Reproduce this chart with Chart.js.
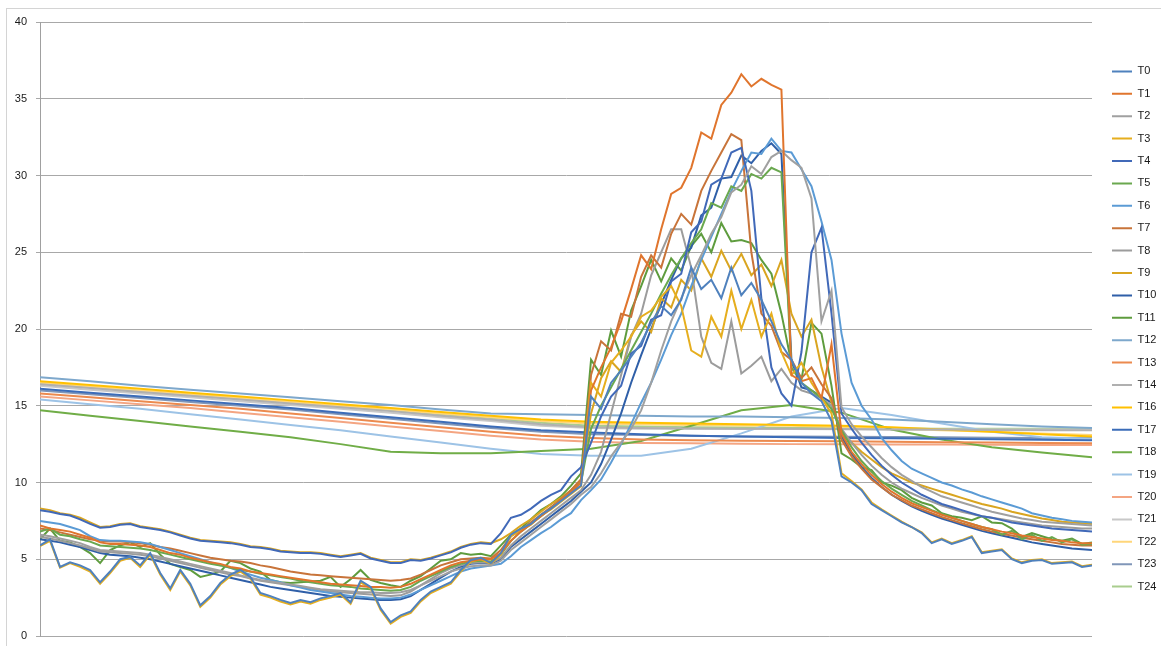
<!DOCTYPE html>
<html>
<head>
<meta charset="utf-8">
<script src="https://cdn.jsdelivr.net/npm/chart.js@4.4.1/dist/chart.umd.min.js"></script>
<style>
  html, body { margin: 0; padding: 0; background: #fff; }
</style>
</head>
<body>
<canvas id="tempChart" width="1161" height="646"></canvas>
<script>
// sample index of the readings (one point every 10 samples), slow sensors every 50
const sampleTime = Array.from({ length: 106 }, (_, i) => i * 10);
const slowTime = Array.from({ length: 22 }, (_, i) => i * 50);

// fast sensors
const T0 = [5.9,6.3,4.5,4.8,4.6,4.3,3.5,4.2,5.0,5.15, 4.6,5.4,4.1,3.1,4.3,3.4,2.0,2.6,3.45,4.0,
  4.3,3.85,2.8,2.6,2.35,2.15,2.35,2.2,2.45,2.6, 2.8,2.2,3.6,3.2,1.8,0.9,1.35,1.6,2.35,2.9,
  3.2,3.5,4.3,4.95,5.1,4.75,5.4,
  6.6,7.0,7.3,7.9,8.3,8.8,9.3,9.8,15.6,14.8, 16.5,17.3,18.2,19.1,20.4,21.5,20.9,21.9,24.0,22.6,
  23.2,22.0,24.0,22.2,23.0,21.9,20.5,19.0,18.0,16.5, 15.8,15.3,14.0,10.4,
  10.0,9.5,8.6,8.2,7.8,7.4,7.1,6.7,6.05,6.3, 6.0,6.2,6.45,5.4,5.5,5.6,5.0,4.75,4.9,4.95, 4.7,4.75,4.8,4.5,4.6];
const T1 = [7.2,7.0,6.9,6.8,6.6,6.4,6.1,6.0,6.0,5.95, 5.9,5.8,5.6,5.4,5.3,5.1,4.95,4.8,4.7,4.5,
  4.4,4.2,4.1,4.0,3.9,3.8,3.7,3.6,3.5,3.4, 3.35,3.3,3.25,3.2,3.2,3.15,3.2,3.4,3.7,4.0,
  4.3,4.6,4.8,4.9,5.0,5.0,5.4,
  6.2,6.8,7.3,7.8,8.3,8.9,9.4,10.0,16.0,17.5, 18.8,20.5,22.6,24.8,23.9,26.5,28.8,29.2,30.5,32.8,
  32.4,34.6,35.4,36.6,35.8,36.3,35.9,35.6,17.0,16.6, 16.8,15.5,19.0,13.2,
  12.0,11.2,10.5,9.9,9.4,9.0,8.65,8.4,8.15,7.9, 7.7,7.5,7.3,7.1,6.95,6.8,6.7,6.55,6.45,6.35, 6.25,6.2,6.1,6.05,6.05];
const T2 = [6.6,6.5,6.35,6.2,6.05,5.8,5.6,5.55,5.5,5.45, 5.4,5.3,5.15,5.0,4.85,4.7,4.55,4.4,4.25,4.1,
  3.95,3.8,3.65,3.55,3.45,3.35,3.25,3.15,3.05,3.0, 2.95,2.9,2.85,2.85,2.8,2.8,2.85,3.0,3.3,3.6,
  3.9,4.2,4.4,4.55,4.6,4.6,4.9,
  5.6,6.1,6.6,7.1,7.6,8.1,8.6,9.2,9.7,10.6, 11.7,12.6,13.5,14.7,16.5,18.6,20.5,22.0,23.5,24.8,
  26.2,27.3,28.9,29.4,30.6,30.1,31.2,31.6,31.0,30.5, 28.5,20.5,22.5,14.9,
  13.8,13.0,12.3,11.6,11.0,10.5,10.1,9.7,9.4,9.1, 8.9,8.7,8.5,8.3,8.1,7.95,7.8,7.65,7.55,7.45, 7.4,7.35,7.3,7.25,7.2];
const T3 = [5.85,6.2,4.45,4.75,4.5,4.2,3.4,4.1,4.9,5.1, 4.5,5.3,4.0,3.0,4.2,3.3,1.9,2.5,3.35,3.9,
  4.2,3.75,2.7,2.5,2.25,2.05,2.25,2.1,2.35,2.5, 2.7,2.1,3.5,3.1,1.7,0.8,1.25,1.5,2.25,2.8,
  3.1,3.4,4.2,4.85,5.0,4.7,5.3,
  6.5,6.9,7.25,7.85,8.25,8.75,9.25,9.75,16.5,15.6, 17.8,18.6,19.5,20.8,21.2,22.1,22.8,21.5,18.6,18.2,
  20.8,19.5,22.5,20.0,21.9,19.5,21.0,18.5,17.0,17.8, 16.5,15.5,14.5,10.6,
  10.1,9.55,8.7,8.25,7.85,7.45,7.1,6.75,6.1,6.35, 6.05,6.25,6.5,5.45,5.55,5.65,5.05,4.8,4.95,5.0, 4.75,4.8,4.85,4.55,4.65];
const T4 = [8.2,8.1,7.95,7.85,7.6,7.3,7.05,7.1,7.25,7.3, 7.1,7.0,6.9,6.75,6.55,6.35,6.2,6.15,6.1,6.05,
  5.95,5.8,5.75,5.65,5.5,5.45,5.4,5.4,5.35,5.25, 5.15,5.25,5.35,5.05,4.9,4.75,4.75,4.95,4.9,5.05,
  5.25,5.45,5.75,5.95,6.05,6.0,6.7,
  7.7,7.9,8.3,8.8,9.2,9.5,10.4,11.0,12.6,14.3, 15.6,16.3,18.4,18.9,20.6,20.9,23.1,23.6,26.3,27.0,
  29.4,29.8,31.5,31.8,29.0,22.0,17.5,15.8,15.0,18.5, 25.0,26.6,21.0,14.5,
  13.5,12.6,11.8,11.1,10.5,10.0,9.6,9.2,8.9,8.6, 8.4,8.2,8.0,7.8,7.7,7.55,7.4,7.3,7.2,7.1, 7.0,6.95,6.9,6.85,6.8];
const T5 = [6.8,7.0,6.6,6.5,6.3,6.15,5.9,5.85,5.8,5.75, 5.7,5.6,5.45,5.3,5.15,5.0,4.85,4.7,4.6,4.45,
  4.3,4.2,4.05,3.95,3.85,3.75,3.6,3.5,3.4,3.3, 3.25,3.2,3.1,3.05,3.0,2.95,3.0,3.2,3.6,3.9,
  4.2,4.5,4.7,4.85,4.9,4.85,5.3,
  6.2,6.8,7.3,7.8,8.3,8.9,9.4,10.0,13.5,15.0, 16.2,17.4,18.6,19.8,21.0,22.3,23.5,24.6,25.6,26.5,
  28.2,27.9,29.3,29.0,30.1,29.8,30.5,30.2,17.5,16.5, 16.0,15.5,14.8,13.4,
  12.3,11.4,10.7,10.1,9.6,9.2,8.8,8.5,8.2,7.95, 7.7,7.5,7.3,7.1,6.95,6.6,6.85,6.3,6.6,6.2, 6.45,6.1,6.3,5.95,6.0];
const T6 = [7.5,7.4,7.3,7.1,6.9,6.5,6.25,6.2,6.2,6.15, 6.1,6.0,5.8,5.6,5.4,5.2,5.0,4.8,4.6,4.45,
  4.2,4.0,3.8,3.65,3.5,3.3,3.15,3.0,2.9,2.8, 2.7,2.6,2.55,2.5,2.45,2.45,2.5,2.7,3.0,3.3,
  3.6,3.9,4.2,4.4,4.5,4.6,4.7,
  5.2,5.8,6.25,6.7,7.1,7.6,8.0,8.85,9.5,10.2, 11.3,12.5,13.8,15.2,16.5,18.0,19.6,21.0,22.8,24.5,
  26.0,27.5,29.0,30.3,31.5,31.4,32.4,31.6,31.5,30.4, 29.3,27.0,24.5,19.7,
  16.5,15.0,14.1,12.9,12.1,11.4,10.9,10.6,10.3,10.0, 9.8,9.55,9.35,9.1,8.9,8.7,8.5,8.3,8.0,7.85, 7.7,7.6,7.5,7.45,7.4];
const T7 = [7.0,6.9,6.75,6.6,6.45,6.3,6.2,6.15,6.15,6.1, 6.05,5.95,5.8,5.7,5.55,5.4,5.25,5.1,5.0,4.9,
  4.85,4.75,4.6,4.5,4.35,4.2,4.1,4.0,3.95,3.9, 3.85,3.8,3.75,3.7,3.65,3.6,3.65,3.75,4.0,4.3,
  4.6,4.8,5.0,5.05,5.1,5.05,5.6,
  6.5,6.9,7.4,7.9,8.4,8.9,9.5,10.2,17.0,19.2, 18.6,21.0,20.8,23.4,24.8,24.0,26.2,27.5,26.8,29.0,
  30.3,31.5,32.7,32.3,25.0,21.0,20.2,18.5,18.0,16.8, 17.5,16.4,15.5,12.8,
  11.7,10.9,10.2,9.7,9.2,8.85,8.5,8.25,8.0,7.75, 7.55,7.35,7.15,6.95,6.8,6.65,6.55,6.4,6.3,6.2, 6.1,6.0,5.95,5.9,5.9];
const T8 = [6.45,6.35,6.2,6.05,5.9,5.7,5.5,5.45,5.4,5.35, 5.3,5.2,5.05,4.9,4.75,4.6,4.45,4.3,4.15,4.0,
  3.9,3.75,3.6,3.5,3.4,3.3,3.2,3.1,3.0,2.9, 2.85,2.8,2.75,2.7,2.65,2.6,2.65,2.9,3.3,3.7,
  4.1,4.4,4.6,4.75,4.8,4.75,5.1,
  5.9,6.5,7.0,7.5,8.0,8.5,9.0,9.5,10.5,12.0, 14.5,17.0,19.5,21.0,23.5,25.0,26.5,26.5,24.0,19.5,
  17.8,17.4,20.5,17.1,17.6,18.2,16.6,17.4,16.5,16.0, 15.8,15.5,15.0,13.5,
  12.6,11.8,11.1,10.5,10.0,9.6,9.3,9.0,8.75,8.5, 8.3,8.1,7.95,7.8,7.7,7.6,7.5,7.4,7.3,7.2, 7.15,7.1,7.05,7.0,7.0];
const T9 = [8.3,8.2,8.0,7.9,7.7,7.4,7.1,7.15,7.3,7.35, 7.15,7.05,6.95,6.8,6.6,6.4,6.25,6.2,6.15,6.1,
  6.0,5.85,5.8,5.7,5.55,5.5,5.45,5.45,5.4,5.3, 5.2,5.3,5.4,5.1,4.95,4.8,4.8,5.0,4.95,5.1,
  5.3,5.5,5.8,6.0,6.1,6.05,6.3,
  6.7,7.2,7.6,8.1,8.6,9.0,9.5,10.2,14.5,16.8, 17.9,17.2,19.6,20.5,19.8,22.0,21.4,23.2,22.5,24.6,
  23.4,25.1,23.8,24.9,23.5,24.2,22.8,24.5,21.0,19.5, 20.6,17.5,15.2,13.2,
  12.6,12.0,11.5,11.0,10.6,10.3,10.0,9.8,9.6,9.4, 9.2,9.0,8.8,8.6,8.45,8.3,8.1,7.95,7.8,7.65, 7.55,7.45,7.4,7.35,7.3];
const T10 = [6.3,6.2,6.1,5.95,5.8,5.6,5.4,5.3,5.25,5.2, 5.1,5.0,4.85,4.7,4.55,4.4,4.25,4.1,3.95,3.8,
  3.65,3.5,3.35,3.2,3.1,3.0,2.9,2.8,2.7,2.6, 2.55,2.5,2.45,2.4,2.35,2.35,2.4,2.6,3.0,3.4,
  3.8,4.2,4.5,4.7,4.75,4.7,5.0,
  5.8,6.3,6.8,7.3,7.8,8.3,8.8,9.4,10.0,11.2, 12.8,14.5,16.5,18.3,20.0,21.6,23.2,24.6,25.3,27.4,
  27.9,29.8,29.9,31.3,30.8,31.6,32.1,31.4,18.0,16.2, 16.0,15.6,15.2,13.0,
  11.9,11.0,10.3,9.7,9.2,8.8,8.45,8.15,7.9,7.65, 7.45,7.25,7.05,6.85,6.7,6.55,6.4,6.25,6.1,6.0, 5.9,5.8,5.7,5.65,5.6];
const T11 = [6.3,7.0,6.2,6.1,5.8,5.4,4.75,5.6,5.9,6.1, 5.8,6.05,5.3,4.7,4.5,4.3,3.85,4.0,4.2,4.9,
  4.75,4.4,4.2,3.65,3.5,3.45,3.5,3.55,3.6,3.85, 3.2,3.7,4.3,3.65,3.45,3.3,3.2,3.6,3.9,4.4,
  4.9,5.0,5.4,5.3,5.35,5.2,5.9,
  6.6,7.0,7.6,8.2,8.6,9.1,9.8,10.6,18.0,17.0, 19.9,18.2,21.2,22.8,24.5,23.1,24.6,23.8,25.4,26.2,
  25.0,26.9,25.7,25.8,25.6,24.5,23.6,21.0,17.8,16.7, 20.4,19.7,16.3,11.9,
  11.5,11.0,10.8,10.0,9.8,9.5,9.0,8.7,8.5,8.0, 7.8,7.7,7.55,7.8,7.4,7.35,7.0,6.45,6.7,6.5, 6.3,6.2,6.35,6.0,6.1];

// slow sensors (one reading every 50 samples)
const T12 = [16.85,16.6,16.3,16.05,15.8,15.55,15.3,15.05,14.75,14.5,14.45, 14.4,14.35,14.3,14.3,14.25,14.2,14.1,13.95,13.8,13.65,13.55];
const T13 = [15.8,15.55,15.3,15.05,14.8,14.5,14.2,13.9,13.6,13.3,13.05, 12.9,12.8,12.75,12.72,12.7,12.68,12.65,12.62,12.6,12.58,12.55];
const T14 = [16.4,16.15,15.9,15.65,15.4,15.15,14.9,14.65,14.35,14.1,13.8, 13.6,13.55,13.52,13.5,13.5,13.48,13.45,13.45,13.42,13.4,13.4];
const T16 = [16.6,16.35,16.1,15.85,15.6,15.35,15.1,14.85,14.6,14.35,14.1, 13.95,13.9,13.85,13.8,13.75,13.7,13.6,13.45,13.3,13.15,13.0];
const T17 = [16.1,15.85,15.6,15.35,15.1,14.85,14.55,14.25,13.95,13.65,13.4, 13.25,13.15,13.05,13.0,12.95,12.9,12.88,12.85,12.82,12.78,12.75];
const T18 = [14.7,14.35,14.0,13.65,13.3,12.95,12.5,12.0,11.9,11.9,12.05, 12.2,12.7,13.7,14.7,15.05,14.55,13.45,12.8,12.3,11.95,11.65];
const T19 = [15.4,15.1,14.8,14.45,14.1,13.75,13.4,13.0,12.6,12.2,11.85, 11.75,11.75,12.2,13.2,14.3,14.85,14.4,13.85,13.3,12.95,12.85];
const T20 = [15.6,15.35,15.1,14.85,14.55,14.25,13.95,13.65,13.35,13.05,12.8, 12.65,12.58,12.55,12.52,12.5,12.5,12.48,12.47,12.46,12.45,12.45];
const T21 = [16.3,16.05,15.8,15.55,15.3,15.05,14.8,14.55,14.25,14.0,13.7, 13.55,13.5,13.5,13.48,13.48,13.47,13.46,13.45,13.45,13.45,13.45];
const T22 = [16.5,16.25,16.0,15.75,15.5,15.25,15.0,14.75,14.5,14.25,14.0, 13.85,13.8,13.75,13.72,13.7,13.62,13.5,13.4,13.3,13.2,13.1];
const T23 = [16.0,15.75,15.5,15.25,15.0,14.75,14.45,14.15,13.85,13.55,13.3, 13.15,13.1,13.05,13.0,13.0,12.98,12.96,12.95,12.92,12.9,12.9];
const T24 = [16.45,16.2,15.95,15.7,15.45,15.2,14.95,14.7,14.45,14.2,13.9, 13.7,13.65,13.6,13.58,13.55,13.55,13.52,13.5,13.5,13.5,13.5];

const sensors = [
  ['T0', T0, sampleTime, '#4F81BD'],
  ['T1', T1, sampleTime, '#E0752D'],
  ['T2', T2, sampleTime, '#A0A0A0'],
  ['T3', T3, sampleTime, '#E6AE1E'],
  ['T4', T4, sampleTime, '#4169B8'],
  ['T5', T5, sampleTime, '#6AA84F'],
  ['T6', T6, sampleTime, '#5B9BD5'],
  ['T7', T7, sampleTime, '#C8743A'],
  ['T8', T8, sampleTime, '#9C9C9C'],
  ['T9', T9, sampleTime, '#D9A520'],
  ['T10', T10, sampleTime, '#2F5FA8'],
  ['T11', T11, sampleTime, '#5E9C3E'],
  ['T12', T12, slowTime, '#7EA8CC'],
  ['T13', T13, slowTime, '#EC8A4E'],
  ['T14', T14, slowTime, '#B0B0B0'],
  ['T16', T16, slowTime, '#FFC000'],
  ['T17', T17, slowTime, '#3B6CB8'],
  ['T18', T18, slowTime, '#70AD47'],
  ['T19', T19, slowTime, '#9DC3E6'],
  ['T20', T20, slowTime, '#F4A582'],
  ['T21', T21, slowTime, '#C8C8C8'],
  ['T22', T22, slowTime, '#FFD67A'],
  ['T23', T23, slowTime, '#8096B8'],
  ['T24', T24, slowTime, '#A9CD8E']
];

// light frame round the whole chart, like the spreadsheet export
const frame = {
  id: 'frame',
  beforeDraw(chart) {
    const ctx = chart.ctx;
    ctx.save();
    ctx.fillStyle = '#fff';
    ctx.fillRect(0, 0, chart.width, chart.height);
    ctx.strokeStyle = '#D4D4D4';
    ctx.lineWidth = 1;
    ctx.strokeRect(6.5, 8.5, chart.width, chart.height);
    ctx.restore();
  }
};

const font = { family: 'Liberation Sans', size: 11 };

new Chart(document.getElementById('tempChart').getContext('2d'), {
  type: 'line',
  data: {
    datasets: sensors.map(([name, values, times, color]) => ({
      label: name,
      data: values.map((v, i) => ({ x: times[i], y: v })),
      borderColor: color,
      backgroundColor: color,
      borderWidth: 2,
      pointRadius: 0,
      tension: 0,
      fill: false
    }))
  },
  options: {
    responsive: false,
    animation: false,
    devicePixelRatio: 1,
    layout: { padding: { left: 6, top: 22, right: 0, bottom: 10 } },
    plugins: {
      tooltip: { enabled: false },
      legend: {
        position: 'right',
        maxWidth: 60.4,
        labels: {
          usePointStyle: true,
          pointStyle: 'line',
          pointStyleWidth: 20,
          padding: 11.4,
          color: '#1a1a1a',
          font: font
        }
      }
    },
    scales: {
      x: { type: 'linear', min: 0, max: 1050, display: false },
      y: {
        min: 0,
        max: 40,
        ticks: { stepSize: 5, padding: 9, color: '#1a1a1a', font: font },
        grid: { color: '#A8A8A8', tickLength: 4 },
        border: { color: '#A0A0A0' },
        afterFit(scale) {
          scale.width = 34;
          scale.paddingTop = 7;
          scale.paddingBottom = 7;
        }
      },
      y2: {
        position: 'right',
        grid: { display: false },
        ticks: { display: false },
        border: { display: false },
        afterFit(scale) { scale.width = 8.6; }
      }
    }
  },
  plugins: [frame]
});
</script>
</body>
</html>
